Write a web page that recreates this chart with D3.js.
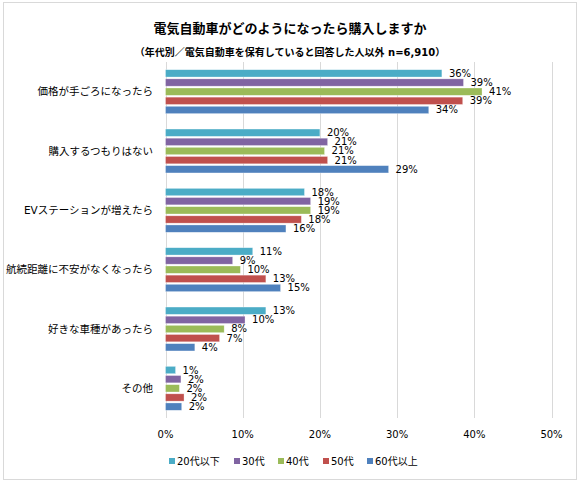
<!DOCTYPE html>
<html lang="ja">
  <head>
    <meta charset="utf-8">
    <style type="text/css">
      body {margin: 0; background-color: #fff;}
      svg {display: block;}
      text {font-family: "DejaVu Sans", "Noto Sans CJK JP", sans-serif; fill: #000;}
    </style>
  </head>
  <body>
    <svg id="chart" width="580" height="484"></svg>

    <script src="https://cdn.jsdelivr.net/npm/d3@7"></script>
    <script type="text/javascript">
      // categories (top to bottom)
      var categories = [
        "価格が手ごろになったら",
        "購入するつもりはない",
        "EVステーションが増えたら",
        "航続距離に不安がなくなったら",
        "好きな車種があったら",
        "その他"
      ];

      // series names (legend order)
      var seriesNames = ["20代以下", "30代", "40代", "50代", "60代以上"];

      // values in %, one array per age group
      var age20 = [35.8, 20.0, 18.0, 11.3, 13.0, 1.3];
      var age30 = [38.6, 21.0, 18.8, 8.7, 10.3, 2.0];
      var age40 = [41.0, 20.6, 18.8, 9.7, 7.6, 1.8];
      var age50 = [38.5, 21.0, 17.6, 13.0, 7.0, 2.4];
      var age60 = [34.1, 28.9, 15.6, 14.9, 3.8, 2.1];

      var colors = ["#4bacc6", "#8064a2", "#9bbb59", "#c0504d", "#4f81bd"];
      var xTicks = [0, 10, 20, 30, 40, 50];

      var allSeries = [age20, age30, age40, age50, age60];

      var svg = d3.select("#chart");

      // chart frame
      svg.append("rect")
          .attr("x", 3.5).attr("y", 2.5)
          .attr("width", 573).attr("height", 477)
          .attr("fill", "#fff")
          .attr("stroke", "#d9d9d9");

      // titles
      svg.append("text")
          .attr("x", 290).attr("y", 33)
          .attr("text-anchor", "middle")
          .style("font-size", "13px")
          .style("font-weight", "bold")
          .text("電気自動車がどのようになったら購入しますか");

      svg.append("text")
          .attr("x", 290).attr("y", 56)
          .attr("text-anchor", "middle")
          .style("font-size", "10px")
          .style("font-weight", "bold")
          .text("（年代別／電気自動車を保有していると回答した人以外 n=6,910）");

      // scales
      var x = d3.scaleLinear().domain([0, 50]).range([165.5, 551.5]);

      var y0 = d3.scaleBand()
          .domain(categories)
          .range([62, 418])
          .paddingInner(0.26)
          .paddingOuter(0.13);

      var y1 = d3.scaleBand()
          .domain(d3.range(seriesNames.length))
          .range([0, y0.bandwidth()])
          .paddingInner(0.2);

      // gridlines
      svg.append("g").selectAll("line")
          .data(xTicks)
          .enter().append("line")
            .attr("x1", function(d) { return Math.round(x(d)) + 0.5; })
            .attr("x2", function(d) { return Math.round(x(d)) + 0.5; })
            .attr("y1", 62).attr("y2", 418)
            .attr("stroke", "#d9d9d9");

      // x axis labels
      svg.append("g").selectAll("text")
          .data(xTicks)
          .enter().append("text")
            .attr("x", function(d) { return x(d); })
            .attr("y", 438)
            .attr("text-anchor", "middle")
            .style("font-size", "10px")
            .text(function(d) { return d + "%"; });

      // category labels
      svg.append("g").selectAll("text")
          .data(categories)
          .enter().append("text")
            .attr("x", 153)
            .attr("y", function(d) { return y0(d) + y0.bandwidth() / 2; })
            .attr("dy", "0.35em")
            .attr("text-anchor", "end")
            .style("font-size", "10.5px")
            .text(function(d) { return d; });

      // bars, one group per category
      var group = svg.append("g").selectAll("g")
          .data(categories)
          .enter().append("g")
            .attr("transform", function(d) { return "translate(0," + y0(d) + ")"; });

      var cells = group.selectAll("g")
          .data(function(d, ci) {
            return allSeries.map(function(s, si) { return {si: si, v: s[ci]}; });
          })
          .enter().append("g");

      cells.append("rect")
          .attr("x", x(0))
          .attr("y", function(d) { return y1(d.si); })
          .attr("width", function(d) { return x(d.v) - x(0); })
          .attr("height", y1.bandwidth())
          .attr("fill", function(d) { return colors[d.si]; })
          .attr("stroke", "#fff")
          .attr("stroke-opacity", 0.5)
          .attr("stroke-width", 0.6);

      cells.append("text")
          .attr("x", function(d) { return x(d.v) + 7; })
          .attr("y", function(d) { return y1(d.si) + y1.bandwidth() / 2; })
          .attr("dy", "0.35em")
          .style("font-size", "10px")
          .text(function(d) { return Math.round(d.v) + "%"; });

      // legend
      var legendX = [169, 234, 278, 323, 367];
      var legend = svg.append("g").selectAll("g")
          .data(seriesNames)
          .enter().append("g")
            .attr("transform", function(d, i) { return "translate(" + legendX[i] + ",458)"; });

      legend.append("rect")
          .attr("width", 6).attr("height", 6)
          .attr("fill", function(d, i) { return colors[i]; });

      legend.append("text")
          .attr("x", 8)
          .attr("y", 3)
          .attr("dy", "0.35em")
          .style("font-size", "10px")
          .text(function(d) { return d; });
    </script>
  </body>
</html>
